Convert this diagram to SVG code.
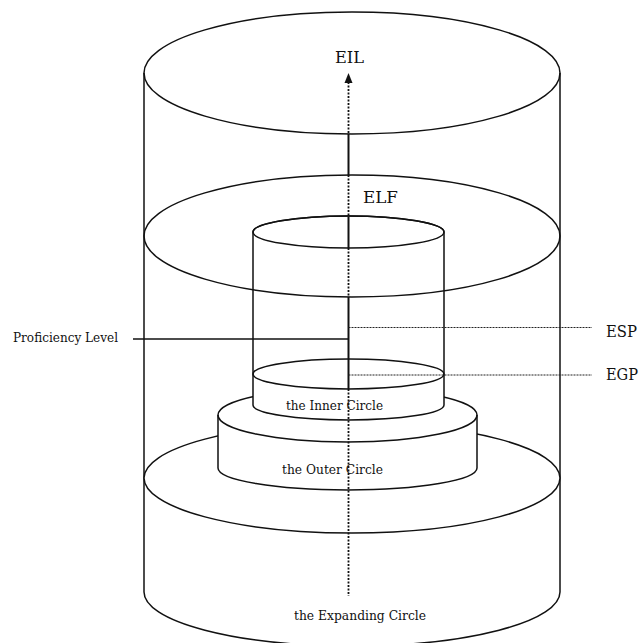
<svg xmlns="http://www.w3.org/2000/svg" width="640" height="643" viewBox="0 0 640 643">
<style>
.ln{fill:none;stroke:#111;stroke-width:1.5}
.wf{fill:#fff;stroke:#111;stroke-width:1.5}
.ax{fill:none;stroke:#111;stroke-width:2}
.axd{fill:none;stroke:#111;stroke-width:1.8;stroke-dasharray:2 1.5}
.fd{fill:none;stroke:#222;stroke-width:1;stroke-dasharray:2 1}
.big{font-family:"DejaVu Serif","Liberation Serif",serif;font-size:16px;fill:#111}
.sm{font-family:"DejaVu Serif","Liberation Serif",serif;font-size:12px;fill:#111}
</style>
<rect width="640" height="643" fill="#fff"/>
<g id="outer-cylinder">
<ellipse class="ln" cx="352" cy="73" rx="208" ry="61"/>
<line class="ln" x1="144" y1="73" x2="144" y2="592"/>
<line class="ln" x1="560" y1="73" x2="560" y2="592"/>
<path class="ln" d="M144,592 A208,54 0 0 0 560,592"/>
</g>
<g id="expanding-circle">
<ellipse class="wf" cx="352" cy="478" rx="208" ry="55"/>
</g>
<g id="outer-circle">
<path class="wf" d="M218,415 A129.5,27 0 0 1 477,415 L477,468 A129.5,22 0 0 1 218,468 Z"/>
<path class="ln" d="M218,415 A129.5,27 0 0 0 477,415"/>
</g>
<g id="inner-circle">
<path class="wf" d="M253,232 A95.5,16 0 0 1 444,232 L444,405 A95.5,15 0 0 1 253,405 Z"/>
<ellipse class="ln" cx="348.5" cy="232" rx="95.5" ry="16"/>
<ellipse class="ln" cx="348.5" cy="374" rx="95.5" ry="15"/>
</g>
<g id="elf-plane">
<ellipse class="ln" cx="352" cy="236" rx="208" ry="61"/>
</g>
<g id="connectors">
<polygon points="348.5,73 344.5,83 352.5,83" fill="#111"/>
<line class="axd" x1="348.5" y1="82" x2="348.5" y2="134"/>
<line class="ax" x1="348.5" y1="134" x2="348.5" y2="175"/>
<line class="axd" x1="348.5" y1="175" x2="348.5" y2="217"/>
<line class="ax" x1="348.5" y1="217" x2="348.5" y2="248"/>
<line class="axd" x1="348.5" y1="248" x2="348.5" y2="297"/>
<line class="ax" x1="348.5" y1="297" x2="348.5" y2="389"/>
<line class="axd" x1="348.5" y1="389" x2="348.5" y2="596"/>
<line class="ln" x1="133" y1="339" x2="348.5" y2="339"/>
<line class="fd" x1="348.5" y1="327.5" x2="592" y2="327.5"/>
<line class="fd" x1="348.5" y1="375" x2="592" y2="375"/>
</g>
<g id="labels">
<text class="big" x="335" y="63" textLength="29" lengthAdjust="spacingAndGlyphs">EIL</text>
<text class="big" x="363" y="203" textLength="35" lengthAdjust="spacingAndGlyphs">ELF</text>
<text class="big" x="606" y="337" textLength="31" lengthAdjust="spacingAndGlyphs">ESP</text>
<text class="big" x="606" y="380" textLength="32" lengthAdjust="spacingAndGlyphs">EGP</text>
<text class="sm" x="13" y="342" font-size="11" textLength="105" lengthAdjust="spacingAndGlyphs">Proficiency Level</text>
<text class="sm" x="286" y="410" textLength="97" lengthAdjust="spacingAndGlyphs">the Inner Circle</text>
<text class="sm" x="282" y="474" textLength="101" lengthAdjust="spacingAndGlyphs">the Outer Circle</text>
<text class="sm" x="294" y="620" textLength="132" lengthAdjust="spacingAndGlyphs">the Expanding Circle</text>
</g>
</svg>
